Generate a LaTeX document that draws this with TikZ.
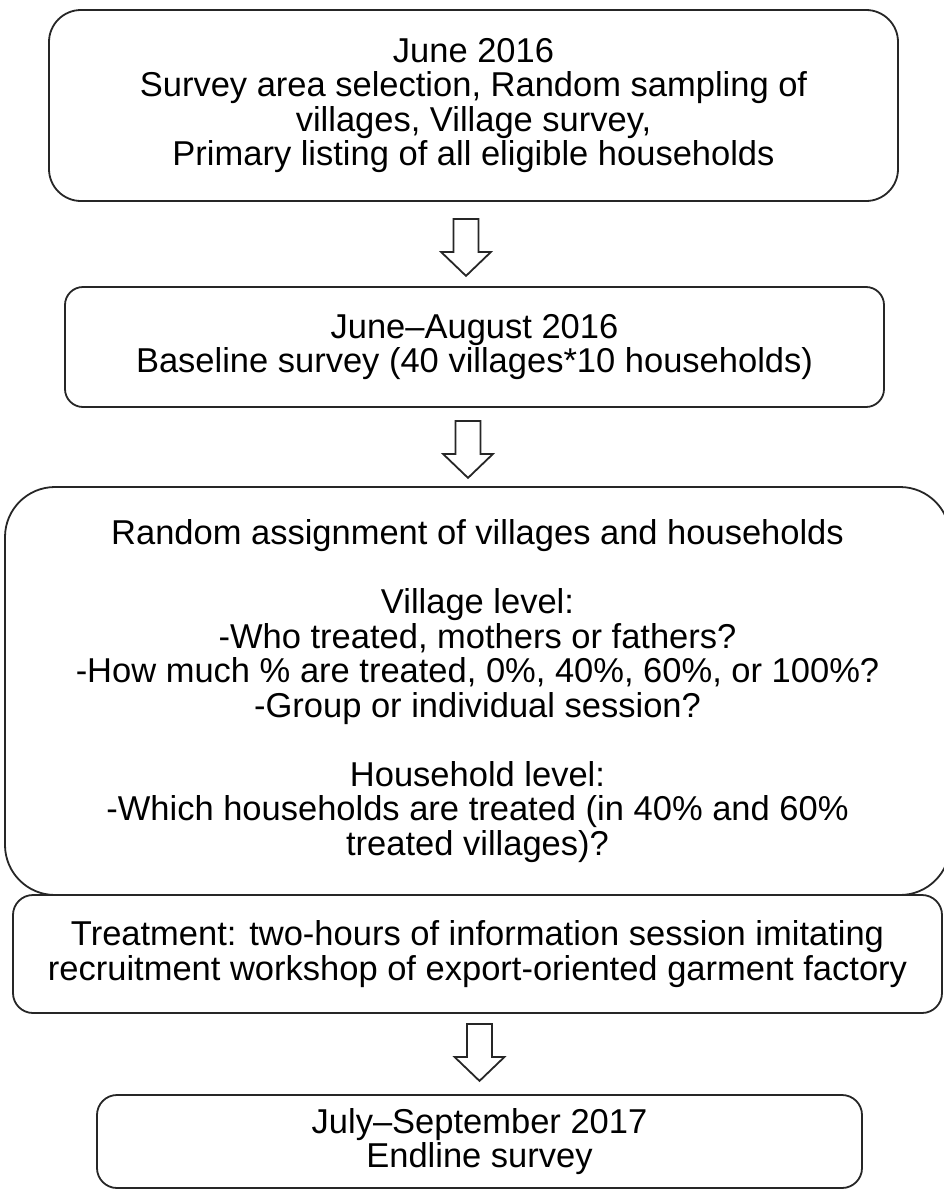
\documentclass[tikz,border=0pt]{standalone}
\usepackage{fontspec}
\setmainfont{Liberation Sans}
\begin{document}
\begin{tikzpicture}[x=1pt,y=-1pt,
  box/.style={draw=black!85, line width=1.8pt, align=center, inner sep=0pt,
    font=\fontsize{34.5}{34.5}\selectfont},
  arrowline/.style={draw=black!85, line width=1.8pt, fill=white, line join=miter},
  downarrow/.pic={\path[arrowline] (-12.5,0) -- (12.5,0) -- (12.5,33) -- (25,33)
      -- (0,57) -- (-25,33) -- (-12.5,33) -- cycle;}]
\useasboundingbox (0,0) rectangle (943,1191);

\node[box, minimum width=849pt, minimum height=191pt, rounded corners=32pt] (b1) at (473.5,105.5)
  {June 2016\\Survey area selection, Random sampling of\\villages, Village survey,\\Primary listing of all eligible households};

\node[box, minimum width=819pt, minimum height=120pt, rounded corners=18pt] (b2) at (474.5,347)
  {June–August 2016\\Baseline survey (40 villages*10 households)};

\node[box, minimum width=945pt, minimum height=408pt, rounded corners=50pt] (b3) at (477.5,691)
  {Random assignment of villages and households\\[34.5pt]Village level:\\-Who treated, mothers or fathers?\\-How much \% are treated, 0\%, 40\%, 60\%, or 100\%?\\-Group or individual session?\\[34.5pt]Household level:\\-Which households are treated (in 40\% and 60\%\\treated villages)?};

\node[box, minimum width=929pt, minimum height=118pt, rounded corners=20pt] (b4) at (477.5,954)
  {Treatment: two-hours of information session imitating\\recruitment workshop of export-oriented garment factory};

\node[box, minimum width=765pt, minimum height=93pt, rounded corners=20pt] (b5) at (479.5,1141.5)
  {July–September 2017\\Endline survey};

\path (b1.south) ++(-7.5,17) pic {downarrow};
\path (b2.south) ++(-6.5,13) pic {downarrow};
\path (b4.south) ++(2,10) pic {downarrow};
\end{tikzpicture}
\end{document}
